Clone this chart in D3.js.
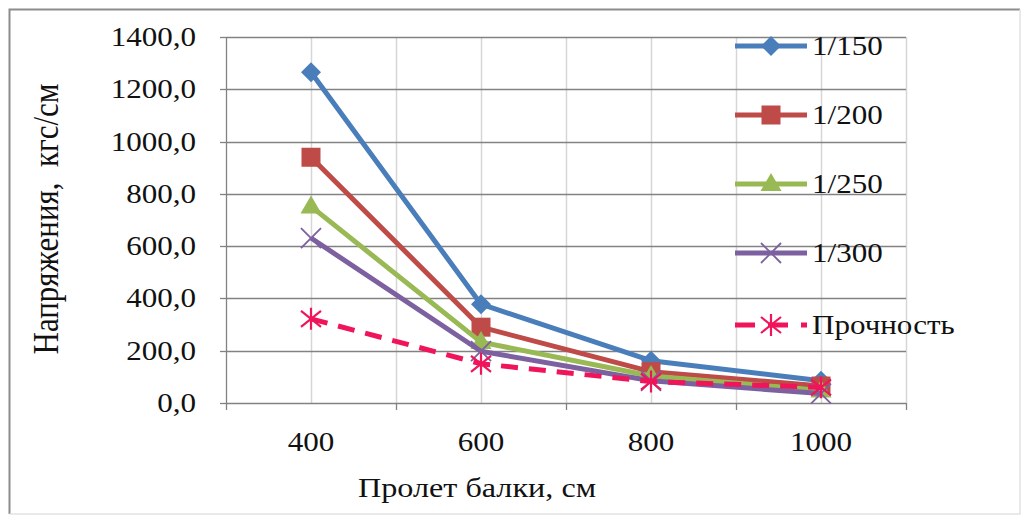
<!DOCTYPE html>
<html>
<head>
<meta charset="utf-8">
<script src="https://cdn.jsdelivr.net/npm/d3@7"></script>
<style>
  body { margin: 0; background: #fff; }
  svg text { font-family: "Liberation Serif", "Times New Roman", serif; fill: #111; }
</style>
</head>
<body>
<svg id="chart" width="1022" height="516"></svg>
<script>
const spans = ["400", "600", "800", "1000"];
const yTicks = [0, 200, 400, 600, 800, 1000, 1200, 1400];
const seriesNames = ["1/150", "1/200", "1/250", "1/300", "Прочность"];
const s150 = [1265, 378, 162, 85];
const s200 = [940, 290, 120, 65];
const s250 = [752, 233, 103, 48];
const s300 = [631, 198, 85, 36];
const strength = [322, 150, 82, 60];
const seriesColors = ["#4a7ebb", "#be4b48", "#98b954", "#7d60a0", "#f0145a"];
const markers = ["diamond", "square", "triangle", "cross", "asterisk"];

const allSeries = [s150, s200, s250, s300, strength].map((vals, i) => ({
    name: seriesNames[i], vals, color: seriesColors[i], marker: markers[i], dashed: i === 4
}));

const svg = d3.select("#chart");
const plotL = 226, plotR = 906, plotT = 37, plotB = 403;
const stretch = 1.15;

const x = d3.scaleBand().domain(spans).range([plotL, plotR]).paddingInner(0).paddingOuter(0);
const y = d3.scaleLinear().domain([0, 1400]).range([plotB, plotT]);

// frame: left/top clear, right/bottom faint
svg.append("path").attr("d", "M1020,9.5H9.5V514")
    .attr("fill", "none").attr("stroke", "#8c8c8c").attr("stroke-width", 2);
svg.append("path").attr("d", "M1020,9.5V514H9.5")
    .attr("fill", "none").attr("stroke", "#e2e2e2").attr("stroke-width", 1.5);

function label(g, txt, px, py, anchor, size) {
    return g.append("text")
        .attr("transform", `translate(${px},${py}) scale(${stretch},1)`)
        .attr("text-anchor", anchor)
        .style("font-size", size + "px")
        .text(txt);
}

// vertical grid (light)
const vx = spans.map(s => x(s)).concat([plotR]).concat(spans.map(s => x(s) + x.bandwidth() / 2));
svg.append("g").selectAll("line").data(vx.filter(v => v !== plotL)).join("line")
    .attr("x1", d => d + 0.5).attr("x2", d => d + 0.5)
    .attr("y1", plotT).attr("y2", plotB)
    .attr("stroke", "#d6d6d6").attr("stroke-width", 1.5);

// horizontal grid
svg.append("g").selectAll("line").data(yTicks.filter(v => v > 0)).join("line")
    .attr("x1", plotL).attr("x2", plotR)
    .attr("y1", d => Math.round(y(d)) + 0.5).attr("y2", d => Math.round(y(d)) + 0.5)
    .attr("stroke", "#828282").attr("stroke-width", 1.3);

// axes
const axisG = svg.append("g").attr("stroke", "#828282").attr("stroke-width", 1.3);
axisG.append("line").attr("x1", plotL + 0.5).attr("x2", plotL + 0.5).attr("y1", plotT).attr("y2", plotB);
axisG.append("line").attr("x1", plotL).attr("x2", plotR).attr("y1", plotB + 0.5).attr("y2", plotB + 0.5);
yTicks.forEach(t => {
    axisG.append("line").attr("x1", plotL - 6).attr("x2", plotL)
        .attr("y1", Math.round(y(t)) + 0.5).attr("y2", Math.round(y(t)) + 0.5);
});
spans.map(s => x(s)).concat([plotR]).forEach(v => {
    axisG.append("line").attr("x1", v + 0.5).attr("x2", v + 0.5).attr("y1", plotB).attr("y2", plotB + 7);
});

// tick labels
const fmt = v => d3.format(".1f")(v).replace(".", ",");
yTicks.forEach(t => label(svg, fmt(t), 196, y(t) + 9, "end", 27));
spans.forEach(s => label(svg, s, x(s) + x.bandwidth() / 2, 451, "middle", 27));

// axis titles
svg.append("text")
    .attr("transform", `translate(58,219) rotate(-90) scale(1,${stretch})`)
    .attr("text-anchor", "middle")
    .attr("xml:space", "preserve")
    .style("white-space", "pre")
    .style("font-size", "31px")
    .text("Напряжения,  кгс/см");
label(svg, "Пролет балки, см", 477, 497, "middle", 28);

// markers
function drawMarker(g, type, cx, cy, color) {
    if (type === "diamond") {
        g.append("path").attr("d", `M${cx},${cy - 10}L${cx + 10},${cy}L${cx},${cy + 10}L${cx - 10},${cy}Z`).attr("fill", color);
    } else if (type === "square") {
        g.append("rect").attr("x", cx - 9.5).attr("y", cy - 9.5).attr("width", 19).attr("height", 19).attr("fill", color);
    } else if (type === "triangle") {
        g.append("path").attr("d", `M${cx},${cy - 11}L${cx + 10.5},${cy + 7}L${cx - 10.5},${cy + 7}Z`).attr("fill", color);
    } else if (type === "cross") {
        g.append("path").attr("d", `M${cx - 10},${cy - 10}L${cx + 10},${cy + 10}M${cx - 10},${cy + 10}L${cx + 10},${cy - 10}`)
            .attr("stroke", color).attr("stroke-width", 1.8).attr("fill", "none");
    } else {
        g.append("path").attr("d", `M${cx - 10},${cy - 8}L${cx + 10},${cy + 8}M${cx - 10},${cy + 8}L${cx + 10},${cy - 8}M${cx},${cy - 11}L${cx},${cy + 11}`)
            .attr("stroke", color).attr("stroke-width", 2.2).attr("fill", "none");
    }
}

const line = d3.line().x((d, i) => x(spans[i]) + x.bandwidth() / 2).y(d => y(d));

allSeries.forEach(s => {
    const g = svg.append("g");
    g.append("path").datum(s.vals).attr("d", line)
        .attr("fill", "none").attr("stroke", s.color).attr("stroke-width", 5)
        .attr("stroke-linejoin", "round")
        .attr("stroke-dasharray", s.dashed ? "17,11" : null);
    s.vals.forEach((v, i) => drawMarker(g, s.marker, x(spans[i]) + x.bandwidth() / 2, y(v), s.color));
});

// legend
const legendY = [46, 115, 184, 253, 325];
allSeries.forEach((s, i) => {
    const g = svg.append("g");
    const ly = legendY[i];
    g.append("line").attr("x1", 735).attr("x2", 807).attr("y1", ly).attr("y2", ly)
        .attr("stroke", s.color).attr("stroke-width", 5)
        .attr("stroke-dasharray", s.dashed ? "20,13" : null);
    drawMarker(g, s.marker, 771, ly, s.color);
    label(g, s.name, 812, ly + 9, "start", 27);
});
</script>
</body>
</html>
